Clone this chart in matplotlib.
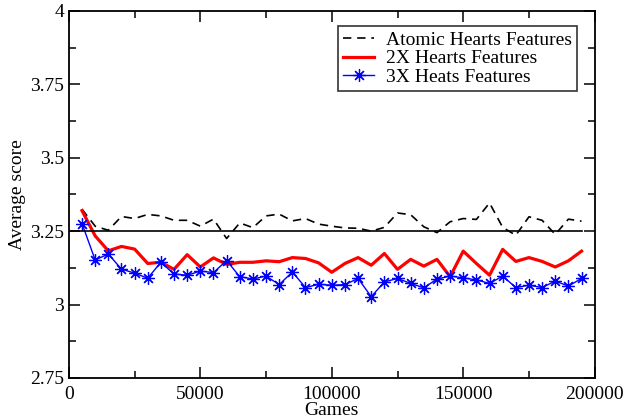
import numpy as np
import matplotlib
matplotlib.use("Agg")
import matplotlib.pyplot as plt
from matplotlib.ticker import MultipleLocator

plt.rcParams['font.family'] = ['Liberation Serif', 'DejaVu Serif']

# games played (x axis)
games = np.arange(5000, 200000, 5000)

atomic = [3.325, 3.267, 3.253, 3.300, 3.293, 3.307, 3.302, 3.287, 3.287, 3.267,
          3.291, 3.225, 3.278, 3.262, 3.302, 3.308, 3.285, 3.293, 3.274, 3.267,
          3.261, 3.260, 3.250, 3.263, 3.312, 3.306, 3.265, 3.245, 3.282, 3.293,
          3.290, 3.346, 3.263, 3.236, 3.299, 3.287, 3.239, 3.291, 3.284]

hearts2x = [3.320, 3.234, 3.183, 3.198, 3.189, 3.140, 3.144, 3.120, 3.170, 3.128,
            3.159, 3.137, 3.144, 3.144, 3.149, 3.146, 3.160, 3.157, 3.142, 3.110,
            3.140, 3.160, 3.134, 3.174, 3.120, 3.154, 3.131, 3.154, 3.095, 3.182,
            3.140, 3.100, 3.188, 3.147, 3.160, 3.147, 3.128, 3.149, 3.182]

hearts3x = [3.276, 3.152, 3.172, 3.121, 3.107, 3.090, 3.144, 3.104, 3.100, 3.114,
            3.109, 3.150, 3.095, 3.087, 3.097, 3.068, 3.111, 3.058, 3.069, 3.066,
            3.068, 3.089, 3.027, 3.077, 3.089, 3.072, 3.057, 3.087, 3.097, 3.091,
            3.084, 3.072, 3.097, 3.058, 3.066, 3.058, 3.080, 3.063, 3.089]

baseline_x = [0, 195000]
baseline_y = [3.25, 3.25]

fig = plt.figure(figsize=(6.26, 4.2), dpi=100)
ax = fig.add_axes([0.110, 0.100, 0.840, 0.874])

ax.plot(games, atomic, color='black', linestyle=(0, (5, 3.5)), linewidth=1.2,
        label='Atomic Hearts Features')
ax.plot(games, hearts2x, color='red', linewidth=2.3, label='2X Hearts Features')
ax.plot(games, hearts3x, color='blue', linewidth=1.0, marker=(8, 2, 0),
        markersize=9, markeredgewidth=0.9, label='3X Heats Features')
ax.plot(baseline_x, baseline_y, color='black', linewidth=1.2)

ax.set_xlim(0, 200000)
ax.set_ylim(2.75, 4)
ax.set_xticks([0, 50000, 100000, 150000, 200000])
ax.set_yticks([2.75, 3, 3.25, 3.5, 3.75, 4])
ax.set_yticklabels(['2.75', '3', '3.25', '3.5', '3.75', '4'])
ax.xaxis.set_minor_locator(MultipleLocator(25000))
ax.yaxis.set_minor_locator(MultipleLocator(0.125))
ax.tick_params(which='both', direction='in', top=True, right=True, labelsize=14)
ax.tick_params(which='major', length=8, width=1.1)
ax.tick_params(which='minor', length=5, width=1.1)
ax.tick_params(axis='x', pad=6)
for s in ax.spines.values():
    s.set_linewidth(1.3)

ax.set_xlabel('Games', fontsize=14, labelpad=-1)
ax.set_ylabel('Average score', fontsize=14, labelpad=3)

leg = ax.legend(loc='upper right', bbox_to_anchor=(0.966, 0.958), fontsize=14,
                frameon=True, fancybox=False, edgecolor='black', handlelength=1.6,
                borderpad=0.25, labelspacing=0.05, handletextpad=0.6,
                borderaxespad=0.0)
leg.get_frame().set_linewidth(1.2)

fig.savefig('out.png', dpi=100)
